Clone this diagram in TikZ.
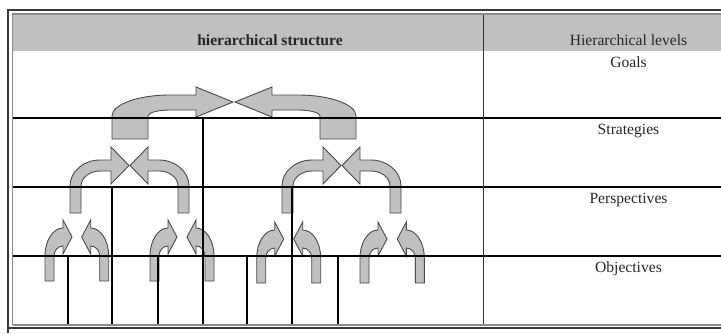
\documentclass[tikz,border=0pt]{standalone}
\usepackage{fontspec}
\setmainfont{Liberation Serif}
\definecolor{hdr}{HTML}{C0C0C0}
\definecolor{afill}{HTML}{C0C0C0}
\definecolor{aline}{HTML}{4A4A4A}
\definecolor{frameout}{HTML}{3A3A3A}
\definecolor{framein}{HTML}{8A8A8A}
\tikzset{
  arr/.style={fill=afill,draw=aline,line width=0.9pt,line join=miter},
  bigarr/.pic={\draw[arr] (0,0) -- (0,-23) .. controls (0,-34.6) and (26,-44) .. (58,-44) -- (84,-44) -- (84,-52) -- (121,-37) -- (84,-22) -- (84,-29) -- (58,-29) .. controls (45.85,-29) and (36,-26.3) .. (36,-23) -- (36,0) -- cycle;},
  midarr/.pic={\draw[arr] (0,0) -- (0,-27) .. controls (0,-41.36) and (13.43,-53) .. (30,-53) -- (41,-53) -- (41,-66) -- (59,-47.5) -- (41,-29) -- (41,-42) -- (30,-42) .. controls (19.5,-42) and (11,-35.3) .. (11,-27) -- (11,0) -- cycle;},
  smallarr/.pic={\draw[arr] (0,0) -- (0,-25) .. controls (0,-40.46) and (8.06,-53) .. (18,-53) -- (18,-61) -- (27,-44) -- (18,-27) -- (18,-35) .. controls (13.03,-35) and (9,-30.52) .. (9,-25) -- (9,0) -- cycle;},
  rowline/.style={line width=1.3pt,draw=black},
  treeline/.style={line width=1.3pt,draw=black},
  lbl/.style={font=\fontsize{15.6}{18}\selectfont,anchor=base,inner sep=0pt,text=black!85}
}
\begin{document}
\begin{tikzpicture}[x=1pt,y=-1pt]
\useasboundingbox (0,0) rectangle (721,333);
\fill[white] (0,0) rectangle (721,333);
% header band
\fill[hdr] (13,14.5) rectangle (721,51);
% arrows: goals level
\pic[shift={(112,139)}] {bigarr};
\pic[shift={(468,0)},xscale=-1,shift={(112,139)}] {bigarr};
% arrows: strategies level
\pic[shift={(70,213)}] {midarr};
\pic[shift={(259,0)},xscale=-1,shift={(70,213)}] {midarr};
\pic[shift={(282,213)}] {midarr};
\pic[shift={(471,0)},xscale=-1,shift={(70,213)}] {midarr};
% arrows: perspectives level
\pic[shift={(45,281)}] {smallarr};
\pic[shift={(153.7,0)},xscale=-1,shift={(45,281)}] {smallarr};
\pic[shift={(150,281)}] {smallarr};
\pic[shift={(364,0)},xscale=-1,shift={(150,281)}] {smallarr};
\pic[shift={(256.7,283)}] {smallarr};
\pic[shift={(577.4,0)},xscale=-1,shift={(256.7,283)}] {smallarr};
\pic[shift={(360,283)}] {smallarr};
\pic[shift={(784.3,0)},xscale=-1,shift={(360,283)}] {smallarr};
% row lines
\coordinate (r1l) at (13,118); \coordinate (r1r) at (721,118);
\coordinate (r2l) at (13,187); \coordinate (r2r) at (721,187);
\coordinate (r3l) at (13,256); \coordinate (r3r) at (721,256);
\draw[rowline] (r1l) -- (r1r);
\draw[rowline] (r2l) -- (r2r);
\draw[rowline] (r3l) -- (r3r);
% tree verticals
\draw[treeline] (203,118) -- (203,325);
\draw[treeline] (112,187) -- (112,325);
\draw[treeline] (292,187) -- (292,325);
\draw[treeline] (68,256) -- (68,325);
\draw[treeline] (158,256) -- (158,325);
\draw[treeline] (247,256) -- (247,325);
\draw[treeline] (338,256) -- (338,325);
% column divider
\draw[line width=1pt,draw=black!80] (483,14.5) -- (483,325);
% frame
\draw[line width=1.8pt,draw=frameout] (8,333) -- (8,10) -- (721,10);
\draw[line width=1.1pt,draw=framein] (12.5,325) -- (12.5,14) -- (721,14);
\draw[line width=1.1pt,draw=framein] (12.5,325) -- (721,325);
\draw[line width=1.5pt,draw=frameout] (8,328.2) -- (721,328.2);
% texts
\node[lbl,font=\fontsize{15.6}{18}\selectfont\bfseries] (hs) at (270,45) {hierarchical structure};
\node[lbl] (hl) at (628.5,45) {Hierarchical levels};
\node[lbl] (goals) at (628.5,67) {Goals};
\node[lbl] (strat) at (628.5,134.5) {Strategies};
\node[lbl] (persp) at (628.5,203) {Perspectives};
\node[lbl] (obj) at (628.5,272) {Objectives};
\end{tikzpicture}
\end{document}
